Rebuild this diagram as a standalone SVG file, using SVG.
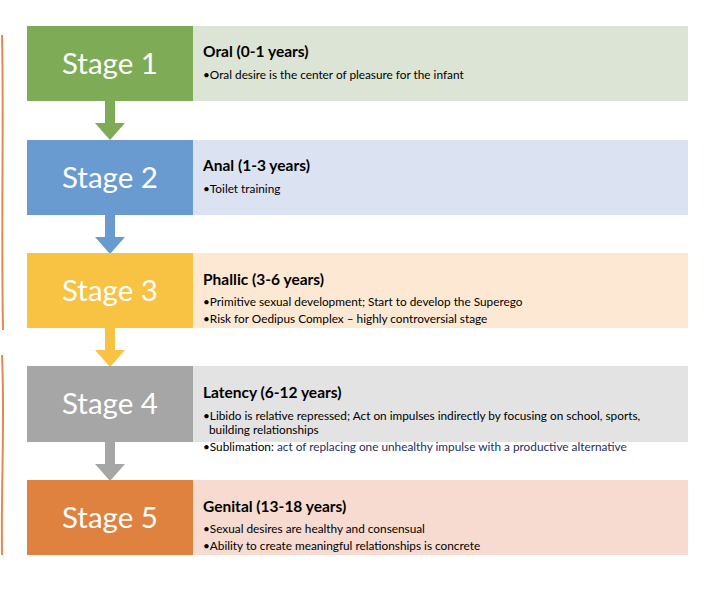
<svg xmlns="http://www.w3.org/2000/svg" width="704" height="590" viewBox="0 0 704 590">
<style>
.stage{font-family:Lato,"Liberation Sans",sans-serif;font-size:29.5px;fill:#fff;text-anchor:middle}
.title{font-family:Lato,"Liberation Sans",sans-serif;font-size:15.5px;font-weight:bold;fill:#000}
.body{font-family:Lato,"Liberation Sans",sans-serif;font-size:11.8px;fill:#000}
.navy{fill:#1f2d5e}
</style>
<rect width="704" height="590" fill="#fff"/>
<path d="M2,35 C4,120 1,220 3,330 M2,355 C5,420 1,480 2,555" fill="none" stroke="#e58a4c" stroke-width="2"/>
<g id="connectors">
<path d="M105,101 h10 v22 h10 l-15,17 l-15,-17 h10 z" fill="#7eab55"/>
<path d="M105,215 h10 v22 h10 l-15,17 l-15,-17 h10 z" fill="#6a9bd0"/>
<path d="M105,328 h10 v22 h10 l-15,17 l-15,-17 h10 z" fill="#f8c242"/>
<path d="M105,442 h10 v22 h10 l-15,17 l-15,-17 h10 z" fill="#a6a6a6"/>
</g>
<g id="stage1">
<rect x="193" y="26" width="495" height="75" fill="#dbe4d5"/>
<rect x="27" y="26" width="166" height="75" fill="#7eab55"/>
<text class="stage" x="110" y="74">Stage 1</text>
<text class="title" x="203" y="57">Oral (0-1 years)</text>
<text class="body" x="203" y="79">•Oral desire is the center of pleasure for the infant</text>
</g>
<g id="stage2">
<rect x="193" y="140" width="495" height="75" fill="#dbe3f2"/>
<rect x="27" y="140" width="166" height="75" fill="#6a9bd0"/>
<text class="stage" x="110" y="188">Stage 2</text>
<text class="title" x="203" y="171">Anal (1-3 years)</text>
<text class="body" x="203" y="193">•Toilet training</text>
</g>
<g id="stage3">
<rect x="193" y="253" width="495" height="75" fill="#fde9d3"/>
<rect x="27" y="253" width="166" height="75" fill="#f8c242"/>
<text class="stage" x="110" y="301">Stage 3</text>
<text class="title" x="203" y="285">Phallic (3-6 years)</text>
<text class="body" x="203" y="306">•Primitive sexual development; Start to develop the Superego</text>
<text class="body" x="203" y="323">•Risk for Oedipus Complex – highly controversial stage</text>
</g>
<g id="stage4">
<rect x="193" y="366" width="495" height="76" fill="#e3e3e3"/>
<rect x="27" y="366" width="166" height="76" fill="#a6a6a6"/>
<text class="stage" x="110" y="414">Stage 4</text>
<text class="title" x="203" y="398">Latency (6-12 years)</text>
<text class="body" x="203" y="420">•Libido is relative repressed; Act on impulses indirectly by focusing on school, sports,</text>
<text class="body" x="209" y="434">building relationships</text>
<text class="body" x="203" y="451">•Sublimation: <tspan class="navy">act of replacing one unhealthy impulse with a productive alternative</tspan></text>
</g>
<g id="stage5">
<rect x="193" y="480" width="495" height="75" fill="#f7dbd0"/>
<rect x="27" y="480" width="166" height="75" fill="#e0823f"/>
<text class="stage" x="110" y="528">Stage 5</text>
<text class="title" x="203" y="512">Genital (13-18 years)</text>
<text class="body" x="203" y="533">•Sexual desires are healthy and consensual</text>
<text class="body" x="203" y="550">•Ability to create meaningful relationships is concrete</text>
</g>
</svg>
